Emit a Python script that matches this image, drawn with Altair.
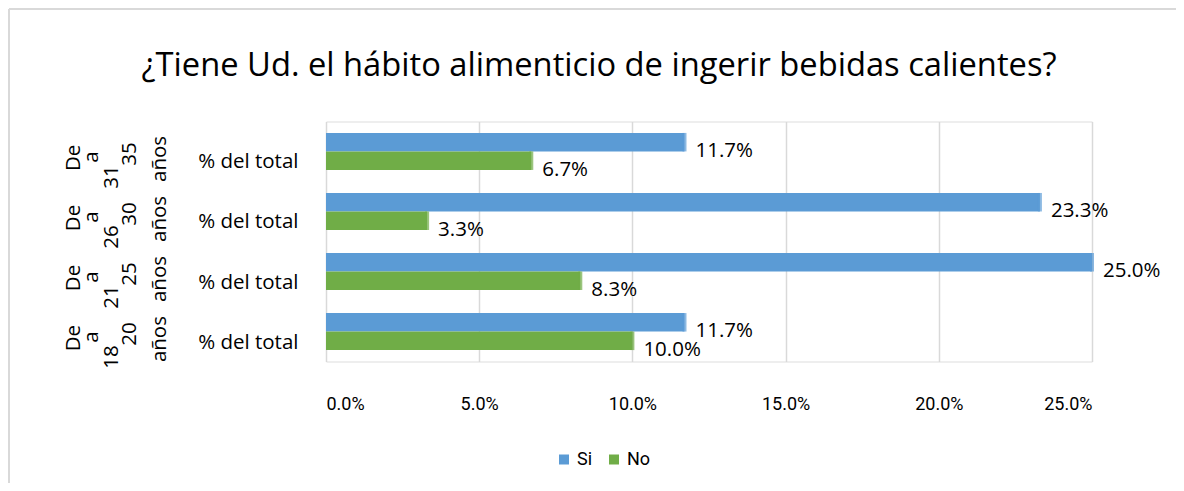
import altair as alt
import pandas as pd

groups = ["De 31 a 35 años", "De 26 a 30 años", "De 21 a 25 años", "De 18 a 20 años"]
inner_label = "% del total"
series = ["Si", "No"]
si_values = [0.117, 0.233, 0.250, 0.117]
no_values = [0.067, 0.033, 0.083, 0.100]
x_ticks = [0.0, 0.05, 0.10, 0.15, 0.20, 0.25]
title_text = "¿Tiene Ud. el hábito alimenticio de ingerir bebidas calientes?"

FONT = "Open Sans"
NARROW = "Roboto"
BLUE = "#5B9BD5"
GREEN = "#70AD47"
BLUE_D = "#41719C"
GREEN_D = "#507E32"

W, H = 766, 240
PAD_L, PAD_T = 318, 113.5

rows = []
for g, s, n in zip(groups, si_values, no_values):
    rows.append({"grupo": g, "serie": "Si", "valor": s, "lbl": f"{s*100:.1f}%"})
    rows.append({"grupo": g, "serie": "No", "valor": n, "lbl": f"{n*100:.1f}%"})
df = pd.DataFrame(rows)

# rotated group-label pieces (Excel's odd wrapping)
piece_rows = []
col_x = [-252, -234, -214, -196, -166]
col_dy = [6.5, 5.5, 25.5, 2.5, 7.5]
for g in groups:
    t = g.split()  # De, n1, a, n2, años
    pieces = [t[0], t[2], t[1], t[3], t[4]]
    for i, p in enumerate(pieces):
        piece_rows.append({"grupo": g, "txt": p, "col": i})
pdf = pd.DataFrame(piece_rows)

yscale = alt.Scale(domain=groups, paddingInner=0.383, paddingOuter=0.19)
xscale = alt.Scale(domain=[0, 0.25], nice=False)
off_scale = alt.Scale(domain=series, paddingInner=0)
color = alt.Color("serie:N", scale=alt.Scale(domain=series, range=[BLUE, GREEN]),
                  legend=alt.Legend(title=None, orient="none", legendX=229, legendY=329,
                                    direction="horizontal", symbolType="square",
                                    symbolSize=100, labelFontSize=18, labelFont=NARROW,
                                    labelColor="#000000",
                                    columnPadding=12, labelOffset=4, symbolStrokeWidth=0))

base = alt.Chart(df)

bars = base.mark_bar(size=18.5).encode(
    y=alt.Y("grupo:N", scale=yscale, sort=groups,
            axis=alt.Axis(title=None, labelExpr="'" + inner_label + "'", domain=False, ticks=False,
                          labelPadding=28, labelFontSize=20.5, labelFont=FONT, labelColor="#000000",
                          labelOffset=11)),
    yOffset=alt.YOffset("serie:N", sort=series, scale=off_scale),
    x=alt.X("valor:Q", scale=xscale,
            axis=alt.Axis(title=None, values=x_ticks, format=".1%", domain=False, ticks=False,
                          labelPadding=34, labelFontSize=18, labelFont=NARROW, labelColor="#000000",
                          labelFontWeight="normal", gridColor="#D9D9D9", gridWidth=1.5)),
    color=color,
)

caps = base.mark_tick(thickness=4, size=18.5, orient="vertical").encode(
    y=alt.Y("grupo:N", scale=yscale, sort=groups),
    yOffset=alt.YOffset("serie:N", sort=series, scale=off_scale),
    x=alt.X("valor:Q", scale=xscale),
    color=alt.Color("serie:N", scale=alt.Scale(domain=series, range=[BLUE_D, GREEN_D]), legend=None),
)

labels = base.mark_text(align="left", baseline="middle", dx=11, dy=9, fontSize=20.5, font=FONT,
                        color="#000000").encode(
    y=alt.Y("grupo:N", scale=yscale, sort=groups),
    yOffset=alt.YOffset("serie:N", sort=series, scale=off_scale),
    x=alt.X("valor:Q", scale=xscale),
    text="lbl:N",
)

group_layers = []
for i in range(5):
    group_layers.append(
        alt.Chart(pdf).transform_filter(alt.datum.col == i).mark_text(
            angle=270, align="center", baseline="middle", fontSize=20.5, font=FONT, color="#000000",
            dx=-col_dy[i]).encode(
            x=alt.value(col_x[i]),
            y=alt.Y("grupo:N", scale=yscale, sort=groups),
            text="txt:N",
        )
    )

title = alt.Chart(pd.DataFrame({"t": [title_text]})).mark_text(
    fontSize=32.7, font=FONT, color="#000000", align="center", baseline="middle").encode(
    x=alt.value(273), y=alt.value(-56), text="t:N")

one = pd.DataFrame({"a": [0]})
frame_top = alt.Chart(one).mark_rule(stroke="#D9D9D9", strokeWidth=2).encode(
    x=alt.value(-PAD_L + 1), x2=alt.value(W + 400), y=alt.value(-PAD_T + 1))
frame_left = alt.Chart(one).mark_rule(stroke="#D9D9D9", strokeWidth=2).encode(
    x=alt.value(-PAD_L + 1), y=alt.value(-PAD_T + 1), y2=alt.value(H + 400))

chart = alt.layer(frame_top, frame_left, bars, caps, labels, *group_layers, title).properties(
    width=W, height=H, autosize="none",
    padding={"left": PAD_L, "top": PAD_T, "right": 84, "bottom": 121},
).configure_view(stroke=None).configure(font=FONT)

chart.save("out.html", embed_options={"renderer": "svg", "actions": False})
